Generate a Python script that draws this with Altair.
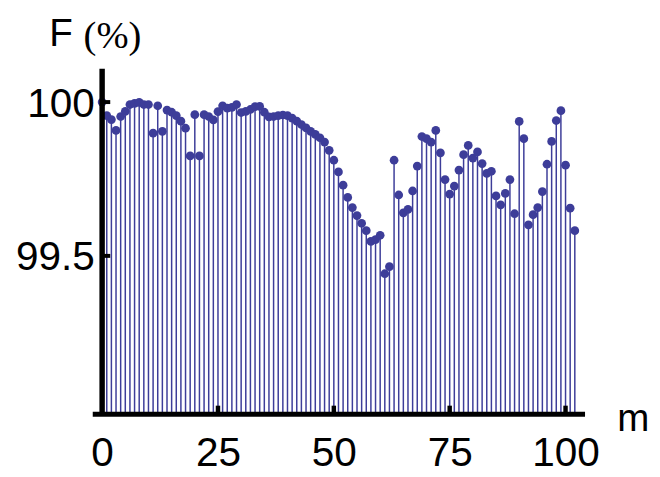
import altair as alt
import pandas as pd

# fidelity F (%) versus m
m_values = list(range(103))
f_values = [
    100.000, 99.956, 99.943, 99.908, 99.953, 99.970, 99.992, 99.996, 99.999, 99.992,
    99.992, 99.899, 99.988, 99.905, 99.974, 99.967, 99.956, 99.938, 99.915, 99.825,
    99.959, 99.825, 99.959, 99.953, 99.942, 99.969, 99.988, 99.980, 99.983, 99.992,
    99.966, 99.970, 99.976, 99.985, 99.986, 99.967, 99.952, 99.953, 99.956, 99.958,
    99.956, 99.948, 99.938, 99.927, 99.916, 99.905, 99.895, 99.884, 99.870, 99.843,
    99.811, 99.773, 99.730, 99.690, 99.657, 99.631, 99.606, 99.582, 99.547, 99.553,
    99.567, 99.442, 99.465, 99.811, 99.698, 99.640, 99.651, 99.711, 99.792, 99.888,
    99.881, 99.870, 99.908, 99.835, 99.748, 99.701, 99.727, 99.779, 99.829, 99.859,
    99.818, 99.838, 99.800, 99.768, 99.775, 99.695, 99.666, 99.703, 99.748, 99.637,
    99.937, 99.881, 99.601, 99.634, 99.657, 99.709, 99.798, 99.872, 99.940, 99.972,
    99.795, 99.655, 99.582,
]

x_ticks = [0, 25, 50, 75, 100]
y_ticks = [99.5, 100.0]
y_tick_labels = ["99.5", "100"]

X_MIN, X_MAX = -2.13, 104.1
Y_MIN, Y_MAX = 98.987, 100.108
BLUE = "#3d3d99"
SANS = "Liberation Sans"

xs = alt.Scale(domain=[X_MIN, X_MAX], nice=False, zero=False)
ys = alt.Scale(domain=[Y_MIN, Y_MAX], nice=False, zero=False)

df = pd.DataFrame({"m": m_values, "F": f_values, "base": Y_MIN})

x_axis = alt.Axis(
    values=x_ticks, grid=False, ticks=False, tickSize=0, title=None,
    domain=True, domainColor="black", domainWidth=5,
    labelFont=SANS, labelFontSize=41, labelColor="black",
    labelBaseline="alphabetic", labelPadding=52,
    labelFlush=False, labelOverlap=False, zindex=1,
)

stems = alt.Chart(df).mark_rule(color=BLUE, strokeWidth=1.5).encode(
    x=alt.X("m:Q", scale=xs, axis=x_axis),
    y=alt.Y("base:Q", scale=ys, axis=None),
    y2="F:Q",
)

points = alt.Chart(df).mark_circle(color=BLUE, size=78, opacity=1).encode(
    x=alt.X("m:Q", scale=xs),
    y=alt.Y("F:Q", scale=ys),
)

yaxis_df = pd.DataFrame({"x": [0], "y1": [Y_MIN], "y2": [Y_MAX]})
y_axis_line = alt.Chart(yaxis_df).mark_rule(color="black", strokeWidth=5.5, strokeCap="butt").encode(
    x=alt.X("x:Q", scale=xs), y=alt.Y("y1:Q", scale=ys), y2="y2:Q"
)

ytick_df = pd.DataFrame({"y": y_ticks, "x1": 0.0, "x2": 1.75, "label": y_tick_labels})
y_tick_marks = alt.Chart(ytick_df).mark_rule(color="black", strokeWidth=4, strokeCap="butt").encode(
    y=alt.Y("y:Q", scale=ys), x=alt.X("x1:Q", scale=xs), x2="x2:Q"
)
y_labels = alt.Chart(ytick_df).mark_text(
    font=SANS, fontSize=41, color="black", align="right", baseline="alphabetic", dx=-7.5, dy=14.7
).encode(y=alt.Y("y:Q", scale=ys), x=alt.X("x1:Q", scale=xs), text="label:N")

xtick_df = pd.DataFrame({"x": x_ticks[1:], "y1": Y_MIN, "y2": Y_MIN + 0.026})
x_tick_marks = alt.Chart(xtick_df).mark_rule(color="black", strokeWidth=4.5, strokeCap="butt").encode(
    x=alt.X("x:Q", scale=xs), y=alt.Y("y1:Q", scale=ys), y2="y2:Q"
)

title_df = pd.DataFrame({"t": ["F"], "u": ["(%)"], "v": ["m"]})
title_f = alt.Chart(title_df).mark_text(
    font=SANS, fontSize=39, color="black", align="left", baseline="alphabetic"
).encode(x=alt.value(-43.5), y=alt.value(-23.2), text="t:N")
title_pct = alt.Chart(title_df).mark_text(
    font="Liberation Serif", fontSize=39, color="black", align="left", baseline="alphabetic"
).encode(x=alt.value(-8.8), y=alt.value(-20.7), text="u:N")
x_title = alt.Chart(title_df).mark_text(
    font=SANS, fontSize=39, color="black", align="left", baseline="alphabetic"
).encode(x=alt.value(531.5), y=alt.value(366.5), text="v:N")

chart = alt.layer(
    stems, points, y_axis_line, y_tick_marks, x_tick_marks, y_labels, title_f, title_pct, x_title
).properties(
    width=498.4,
    height=349.1,
    autosize=alt.AutoSizeParams(type="none"),
    padding={"left": 85.3, "top": 58.7, "right": 68.3, "bottom": 61.2},
).configure(background="white", view=alt.ViewConfig(stroke=None))

chart.save("out.html", embed_options={"renderer": "svg", "actions": False})
